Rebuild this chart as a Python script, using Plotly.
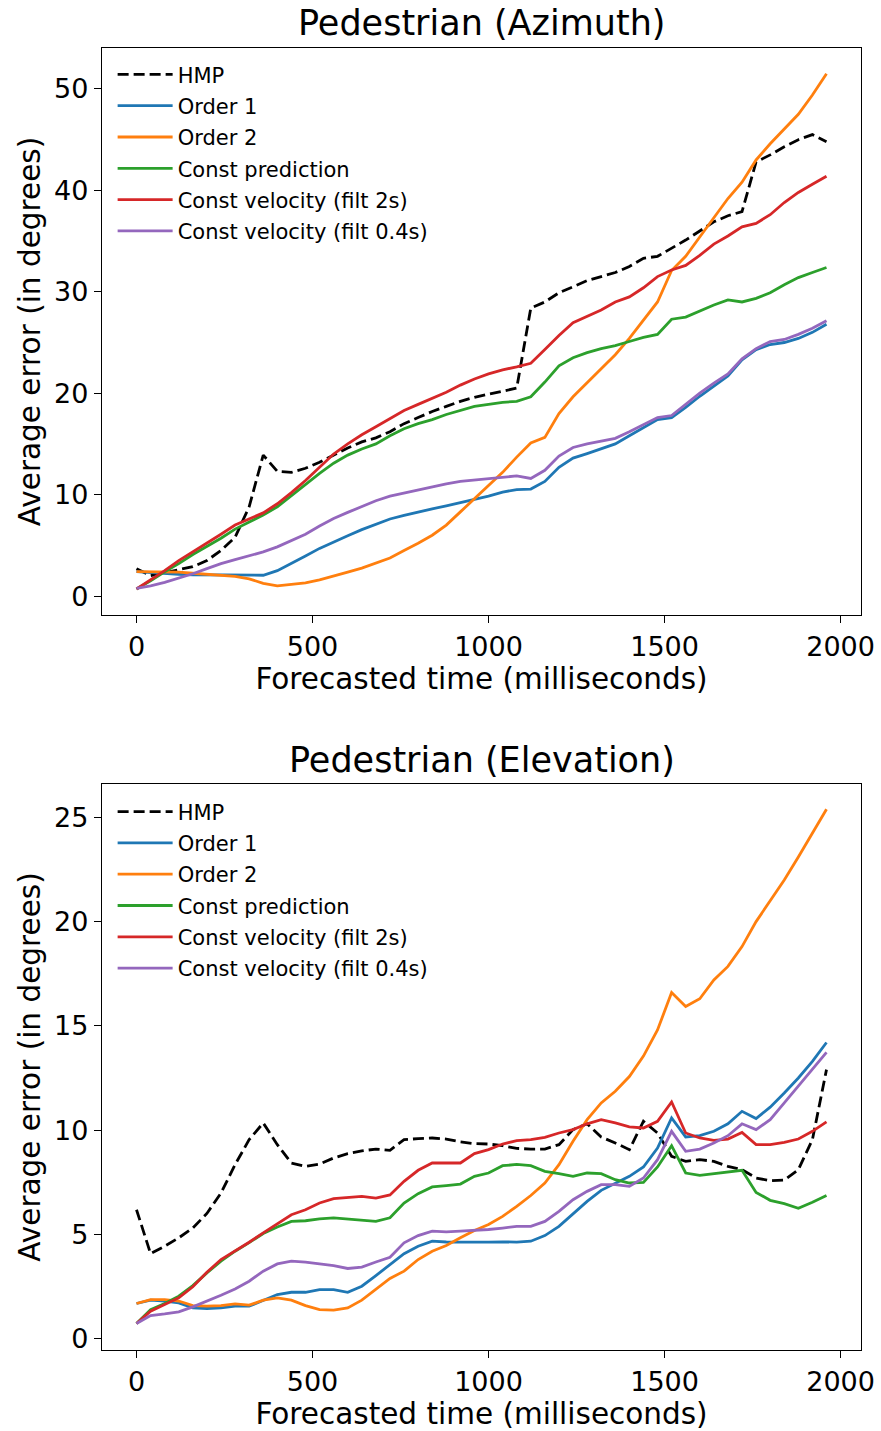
import plotly.graph_objects as go

time_ms = [i * 40 for i in range(50)]

series_names = ["HMP", "Order 1", "Order 2", "Const prediction",
                "Const velocity (filt 2s)", "Const velocity (filt 0.4s)"]

# ---- Azimuth ----
az_hmp = [2.7, 2.0, 2.3, 2.6, 2.9, 3.5, 4.5, 5.8, 8.8, 13.9,
          12.3, 12.2, 12.6, 13.2, 13.9, 14.6, 15.2, 15.6, 16.2, 17.0,
          17.6, 18.2, 18.7, 19.2, 19.6, 19.9, 20.2, 20.5, 28.4, 29.0,
          29.9, 30.5, 31.1, 31.5, 31.9, 32.5, 33.3, 33.5, 34.3, 35.1,
          36.0, 36.9, 37.5, 37.9, 42.8, 43.5, 44.3, 45.0, 45.5, 44.8]
az_order1 = [2.4, 2.3, 2.2, 2.15, 2.1, 2.1, 2.05, 2.05, 2.05, 2.05,
             2.5, 3.2, 3.95, 4.7, 5.35, 5.95, 6.55, 7.1, 7.6, 7.95,
             8.3, 8.6, 8.9, 9.2, 9.5, 9.85, 10.25, 10.5, 10.55, 11.3,
             12.7, 13.6, 14.05, 14.5, 15.0, 15.8, 16.6, 17.4, 17.6, 18.6,
             19.7, 20.7, 21.7, 23.3, 24.3, 24.8, 25.0, 25.4, 26.0, 26.8]
az_order2 = [2.4, 2.4, 2.4, 2.35, 2.25, 2.15, 2.05, 1.95, 1.7, 1.25,
             1.0, 1.15, 1.3, 1.6, 1.95, 2.35, 2.75, 3.25, 3.75, 4.5,
             5.2, 6.0, 7.0, 8.3, 9.6, 10.9, 12.2, 13.7, 15.1, 15.65,
             18.0, 19.65, 21.0, 22.4, 23.8, 25.4, 27.2, 29.0, 32.1, 33.5,
             35.4, 37.3, 39.2, 40.8, 43.0, 44.6, 46.0, 47.5, 49.4, 51.5]
az_const = [0.7, 1.5, 2.4, 3.2, 4.1, 4.9, 5.7, 6.6, 7.3, 8.0,
            8.8, 9.9, 11.0, 12.1, 13.1, 13.9, 14.5, 15.0, 15.8, 16.5,
            17.0, 17.4, 17.9, 18.3, 18.7, 18.9, 19.1, 19.2, 19.65, 21.1,
            22.7, 23.5, 24.0, 24.4, 24.7, 25.1, 25.5, 25.8, 27.3, 27.5,
            28.1, 28.7, 29.2, 29.0, 29.35, 29.9, 30.7, 31.4, 31.9, 32.4]
az_cv2 = [0.7, 1.6, 2.5, 3.5, 4.35, 5.2, 6.1, 7.0, 7.6, 8.2,
          9.1, 10.2, 11.4, 12.7, 14.0, 15.0, 15.9, 16.7, 17.5, 18.3,
          18.9, 19.5, 20.1, 20.8, 21.4, 21.9, 22.3, 22.6, 22.95, 24.3,
          25.7, 26.95, 27.6, 28.2, 29.0, 29.5, 30.4, 31.5, 32.15, 32.6,
          33.6, 34.7, 35.5, 36.4, 36.75, 37.6, 38.8, 39.8, 40.6, 41.4]
az_cv04 = [0.75, 1.0, 1.35, 1.75, 2.2, 2.7, 3.2, 3.6, 4.0, 4.35,
           4.85, 5.5, 6.1, 6.9, 7.65, 8.25, 8.85, 9.4, 9.85, 10.15,
           10.5, 10.75, 11.05, 11.3, 11.45, 11.6, 11.7, 11.85, 11.6, 12.4,
           13.8, 14.65, 15.0, 15.25, 15.55, 16.2, 16.9, 17.6, 17.8, 18.9,
           20.0, 21.0, 21.9, 23.4, 24.4, 25.1, 25.3, 25.8, 26.4, 27.15]

# ---- Elevation ----
el_hmp = [6.18, 4.07, 4.43, 4.83, 5.3, 6.0, 6.98, 8.34, 9.54, 10.34,
          9.3, 8.42, 8.26, 8.37, 8.66, 8.87, 9.0, 9.09, 9.03, 9.54,
          9.59, 9.62, 9.57, 9.43, 9.35, 9.33, 9.25, 9.12, 9.09, 9.09,
          9.3, 10.02, 10.3, 9.67, 9.38, 9.06, 10.42, 9.86, 8.74, 8.5,
          8.58, 8.5, 8.26, 8.1, 7.7, 7.57, 7.6, 8.1, 9.54, 12.9]
el_order1 = [1.68, 1.84, 1.8, 1.71, 1.47, 1.44, 1.47, 1.55, 1.55, 1.84,
             2.11, 2.22, 2.22, 2.35, 2.35, 2.22, 2.51, 3.02, 3.55, 4.07,
             4.43, 4.67, 4.63, 4.62, 4.62, 4.62, 4.64, 4.62, 4.67, 4.94,
             5.38, 5.99, 6.58, 7.11, 7.46, 7.78, 8.23, 9.14, 10.58, 9.67,
             9.73, 9.94, 10.3, 10.9, 10.55, 11.1, 11.78, 12.5, 13.3, 14.2]
el_order2 = [1.68, 1.87, 1.87, 1.8, 1.58, 1.55, 1.58, 1.66, 1.6, 1.84,
             1.95, 1.84, 1.58, 1.39, 1.36, 1.47, 1.84, 2.35, 2.88, 3.23,
             3.79, 4.19, 4.46, 4.83, 5.18, 5.47, 5.86, 6.34, 6.86, 7.46,
             8.34, 9.46, 10.5, 11.3, 11.86, 12.57, 13.55, 14.8, 16.6, 15.93,
             16.3, 17.2, 17.85, 18.8, 20.0, 21.0, 22.0, 23.1, 24.24, 25.39]
el_const = [0.72, 1.39, 1.68, 2.03, 2.54, 3.15, 3.71, 4.19, 4.6, 5.04,
            5.35, 5.62, 5.65, 5.74, 5.79, 5.74, 5.7, 5.62, 5.79, 6.5,
            6.95, 7.27, 7.34, 7.41, 7.78, 7.94, 8.29, 8.35, 8.29, 8.02,
            7.91, 7.78, 7.94, 7.91, 7.62, 7.46, 7.49, 8.23, 9.25, 7.94,
            7.83, 7.91, 7.97, 8.07, 7.01, 6.63, 6.47, 6.25, 6.54, 6.86]
el_cv2 = [0.72, 1.31, 1.63, 1.95, 2.48, 3.18, 3.79, 4.19, 4.62, 5.07,
          5.51, 5.94, 6.18, 6.5, 6.71, 6.77, 6.82, 6.74, 6.89, 7.54,
          8.07, 8.42, 8.42, 8.42, 8.87, 9.06, 9.33, 9.49, 9.54, 9.65,
          9.86, 10.02, 10.3, 10.5, 10.34, 10.15, 10.1, 10.42, 11.35, 9.86,
          9.62, 9.51, 9.57, 9.89, 9.3, 9.3, 9.41, 9.57, 9.94, 10.39]
el_cv04 = [0.72, 1.1, 1.18, 1.28, 1.52, 1.79, 2.08, 2.38, 2.75, 3.23,
           3.58, 3.71, 3.67, 3.58, 3.5, 3.36, 3.43, 3.67, 3.9, 4.59,
           4.94, 5.15, 5.12, 5.15, 5.18, 5.23, 5.3, 5.38, 5.38, 5.62,
           6.1, 6.66, 7.06, 7.38, 7.38, 7.3, 7.7, 8.58, 9.94, 8.98,
           9.09, 9.38, 9.73, 10.3, 10.02, 10.5, 11.3, 12.1, 12.9, 13.73]

x_tick_vals = [0, 500, 1000, 1500, 2000]
az_tick_vals = [0, 10, 20, 30, 40, 50]
el_tick_vals = [0, 5, 10, 15, 20, 25]

colors = ["black", "#1f77b4", "#ff7f0e", "#2ca02c", "#d62728", "#9467bd"]
FONT = "DejaVu Sans"

fig = go.Figure()

panels = [
    ([az_hmp, az_order1, az_order2, az_const, az_cv2, az_cv04], "x", "y", "legend"),
    ([el_hmp, el_order1, el_order2, el_const, el_cv2, el_cv04], "x2", "y2", "legend2"),
]
for p, (data, xa, ya, lg) in enumerate(panels):
    for k, (name, vals) in enumerate(zip(series_names, data)):
        fig.add_trace(go.Scatter(
            x=time_ms, y=vals, mode="lines", name=name,
            line=dict(color=colors[k], width=2.8,
                      dash="11px,5px" if k == 0 else "solid"),
            xaxis=xa, yaxis=ya, legend=lg,
            legendgroup=f"{lg}_{k}",
        ))

axis_common = dict(
    showline=True, linecolor="black", linewidth=1.4, mirror=True,
    ticks="outside", ticklen=7, tickwidth=1.3, tickcolor="black",
    showgrid=False, zeroline=False, automargin=False,
    tickfont=dict(family=FONT, size=27, color="black"),
)

xtitle = dict(text="Forecasted time (milliseconds)",
              font=dict(family=FONT, size=29.5, color="black"), standoff=0)
ytitle = dict(text="Average error (in degrees)",
              font=dict(family=FONT, size=29.5, color="black"), standoff=4)

top_dom = [0.5645, 1.0]
bot_dom = [0.0, 0.4347]

legend_common = dict(
    xanchor="left", yanchor="top",
    font=dict(family=FONT, size=21, color="black"),
    bgcolor="rgba(255,255,255,0)", tracegroupgap=1,
    traceorder="grouped", itemwidth=55,
)

fig.update_layout(
    width=881, height=1431,
    margin=dict(l=102, r=20, t=48, b=81, autoexpand=False),
    paper_bgcolor="white", plot_bgcolor="white",
    font=dict(family=FONT, color="black"),
    showlegend=True,
    xaxis=dict(axis_common, domain=[0, 1], anchor="y", range=[-98, 2058],
               tickvals=x_tick_vals, title=xtitle, ticklabelstandoff=0),
    yaxis=dict(axis_common, domain=top_dom, anchor="x", range=[-1.87, 54.04],
               tickvals=az_tick_vals, title=ytitle, ticklabelstandoff=0),
    xaxis2=dict(axis_common, domain=[0, 1], anchor="y2", range=[-98, 2058],
                tickvals=x_tick_vals, title=xtitle, ticklabelstandoff=0),
    yaxis2=dict(axis_common, domain=bot_dom, anchor="x2", range=[-0.55, 26.6],
                tickvals=el_tick_vals, title=ytitle, ticklabelstandoff=0),
    legend=dict(legend_common, x=0.014, y=0.9952),
    legend2=dict(legend_common, x=0.014, y=0.4290),
    annotations=[
        dict(text="Pedestrian (Azimuth)", xref="paper", yref="paper",
             x=0.5, y=1.0, xanchor="center", yanchor="bottom", yshift=3,
             showarrow=False, font=dict(family=FONT, size=35, color="black")),
        dict(text="Pedestrian (Elevation)", xref="paper", yref="paper",
             x=0.5, y=0.4347, xanchor="center", yanchor="bottom", yshift=2,
             showarrow=False, font=dict(family=FONT, size=35, color="black")),
    ],
)

fig.write_html("out.html")
